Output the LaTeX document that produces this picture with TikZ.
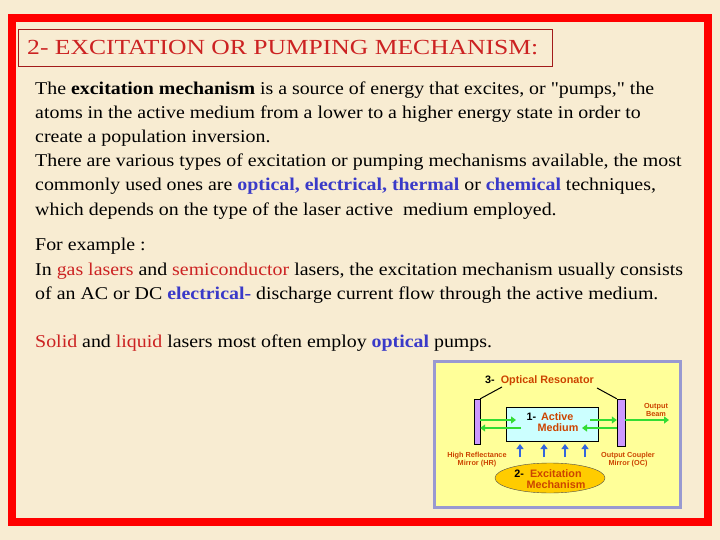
\documentclass[tikz,border=0pt]{standalone}
\usepackage{fontspec}
\setmainfont{Liberation Serif}
\newfontfamily\qfont[Ligatures=TeXOff]{Liberation Serif}
\newfontfamily\insetfont{Liberation Sans}
\usetikzlibrary{arrows.meta,shapes.geometric}
\definecolor{bg}{HTML}{F8ECD2}
\definecolor{tblue}{HTML}{3A3AC8}
\definecolor{tred}{HTML}{CC2222}
\definecolor{ired}{HTML}{CC4400}
\definecolor{iyel}{HTML}{FFFF99}
\definecolor{mir}{HTML}{CC99FF}
\definecolor{med}{HTML}{CCFFFF}
\definecolor{ell}{HTML}{FFCC00}
\definecolor{grn}{HTML}{33DD33}
\definecolor{arb}{HTML}{3366DD}
\newcommand{\bl}[1]{\textcolor{tblue}{\textbf{#1}}}
\newcommand{\rd}[1]{\textcolor{tred}{#1}}
\newcommand{\dq}{{\qfont"}}
\tikzset{
 line/.style={anchor=base west,inner sep=0pt,xscale=1.105,font=\fontsize{18}{20}\selectfont},
 small/.style={font=\insetfont\bfseries\fontsize{7.3}{8}\selectfont,text=ired,align=center,inner sep=0pt},
 mid/.style={small,font=\insetfont\bfseries\fontsize{10.8}{11.5}\selectfont},
 garrow/.style={draw=grn,line width=2.2pt,-{Triangle[length=5pt,width=7pt]}},
 barrow/.style={draw=arb,line width=2.2pt,-{Triangle[length=5pt,width=7pt]}},
}
\begin{document}
\begin{tikzpicture}[x=1pt,y=-1pt]
\useasboundingbox (0,0) rectangle (720,540);
\fill[bg] (0,0) rectangle (720,540);
\draw[red,line width=8pt] (12,18) rectangle (708,522);
\node[draw=tred!80!black,line width=0.8pt,fill=bg,minimum width=534,minimum height=37,inner sep=0pt] (title) at (285,47.5) {};
\node[text=tred,font=\fontsize{21.5}{24}\selectfont,xscale=1.19,anchor=west,inner sep=0pt] (tt) at (27,48) {2- EXCITATION OR PUMPING MECHANISM:};
\node[line] (l1) at (35,95) {The \textbf{excitation mechanism} is a source of energy that excites, or \dq pumps,\dq\ the};
\node[line] (l2) at (35,119) {atoms in the active medium from a lower to a higher energy state in order to};
\node[line] (l3) at (35,143) {create a population inversion.};
\node[line] (l4) at (35,167) {There are various types of excitation or pumping mechanisms available, the most};
\node[line] (l5) at (35,191) {commonly used ones are \bl{optical, electrical, thermal} or \bl{chemical} techniques,};
\node[line] (l6) at (35,215) {which depends on the type of the laser active\ \ medium employed.};
\node[line] (l7) at (35,251) {For example :};
\node[line] (l8) at (35,275) {In \rd{gas lasers} and \rd{semiconductor} lasers, the excitation mechanism usually consists};
\node[line] (l9) at (35,299) {of an AC or DC \bl{electrical-} discharge current flow through the active medium.};
\node[line] (l10) at (35,347) {\rd{Solid} and \rd{liquid} lasers most often employ \bl{optical} pumps.};
% inset
\fill[iyel,draw=black!45!blue!40!white,line width=3pt] (434,361.5) rectangle (680.5,507.5);
\node[draw=black,fill=mir,minimum width=6,minimum height=45,inner sep=0pt,line width=0.4pt] (hr) at (477,421.5) {};
\node[draw=black,fill=mir,minimum width=8,minimum height=47,inner sep=0pt,line width=0.4pt] (oc) at (621,422.5) {};
\node[draw=black,fill=med,minimum width=92,minimum height=34,inner sep=0pt,line width=0.4pt] (am) at (552,424) {};
\node[mid] (amt) at (550,422) {\textcolor{black}{1-}\,\ Active\\\hspace{16pt}Medium};
\node[draw=black!70,fill=ell,ellipse,minimum width=110,minimum height=30,inner sep=0pt,line width=0.4pt] (em) at (550,478) {};
\node[mid] (emt) at (548,479) {\textcolor{black}{2-}\ \ Excitation\\\hspace{16pt}Mechanism};
\node[mid,anchor=west] (ort) at (485,381) {\textcolor{black}{3-}\ \ Optical Resonator};
\coordinate (orl) at (502,387); \coordinate (orr) at (597,388);
\draw[line width=1pt] (orl) -- (hr.north east);
\draw[line width=1pt] (orr) -- (oc.north west);
\node[small] (hrt) at (477,460) {High Reflectance\\Mirror (HR)};
\node[small] (oct) at (628,460) {Output Coupler\\Mirror (OC)};
\node[small] (obt) at (656,410) {Output\\Beam};
\coordinate (g1) at (516,420); \coordinate (g2) at (485,428);
\coordinate (g3) at (521,428); \coordinate (g4) at (582,428);
\coordinate (g5) at (590,420); \coordinate (g6) at (669,420);
\draw[garrow] (hr.east |- g1) -- (g1);
\draw[garrow] (g3) -- (hr.east |- g2);
\draw[garrow] (g5) -- (oc.west |- g5);
\draw[garrow] (oc.west |- g4) -- (g4);
\draw[garrow] (oc.east |- g6) -- (g6);
\foreach \x [count=\i] in {520,544,565,585}{
  \coordinate (b\i) at (\x,457);
  \draw[barrow] (b\i) -- (\x,444);
}
\end{tikzpicture}
\end{document}
